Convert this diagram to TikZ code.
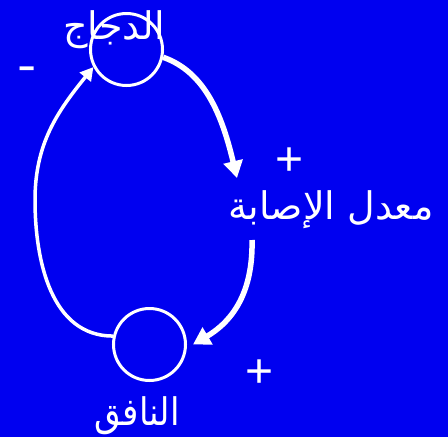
\documentclass[tikz,border=0pt]{standalone}
\usepackage{fontspec}
\setmainfont{Liberation Sans}
\newfontfamily\arabicfont[Script=Arabic]{DejaVu Sans}
\TeXXeTstate=1
\usepackage{tikz}
\usetikzlibrary{arrows.meta, calc, positioning}
\definecolor{slideblue}{HTML}{0000F0}
\tikzset{
  stock/.style    = {circle, draw=white, line width=3pt, minimum size=72pt, inner sep=0pt},
  arlab/.style    = {font=\arabicfont\fontsize{38}{38}\selectfont, text=white, inner sep=0pt},
  signlab/.style  = {font=\fontsize{48}{48}\selectfont, text=white, inner sep=0pt},
  fatlink/.style  = {draw=white, line width=5.5pt, -{Triangle[length=17pt, width=19pt]}},
  thinlink/.style = {draw=white, line width=3.5pt, -{Triangle[length=13pt, width=14pt]}},
}
\begin{document}
\begin{tikzpicture}[x=1pt, y=-1pt]
  \fill[slideblue] (0,0) rectangle (448,437);
  \useasboundingbox (0,0) rectangle (448,437);
  % stocks
  \node[stock] (dajaj) at (126.5,49.5) {};
  \node[stock] (nafiq) at (149.5,344.5) {};
  % labels
  \node[arlab] (ldajaj) at (114,30) {\beginR الدجاج\endR};
  \node[arlab] (isaba) at (331,210) {\beginR معدل الإصابة\endR};
  \node[arlab, xscale=0.9] (lnafiq) at (137,416) {\beginR النافق\endR};
  \node[signlab, xscale=1.2] (minus) at (27,74) {-};
  \node[signlab] (plusa) at (290,162) {+};
  \node[signlab] (plusb) at (260,374) {+};
  % links
  \coordinate (hitin) at (237,178);
  \coordinate (hitout) at (252,240);
  \draw[fatlink] (dajaj.-12) .. controls (205,72) and (222,115) .. (hitin);
  \draw[fatlink] (hitout) .. controls (253,285) and (238,318) .. ([xshift=6pt]nafiq.east);
  \draw[thinlink] (nafiq.167) to[out=180, in=-90] (35,200) to[out=90, in=-129] (dajaj.208);
\end{tikzpicture}
\end{document}
